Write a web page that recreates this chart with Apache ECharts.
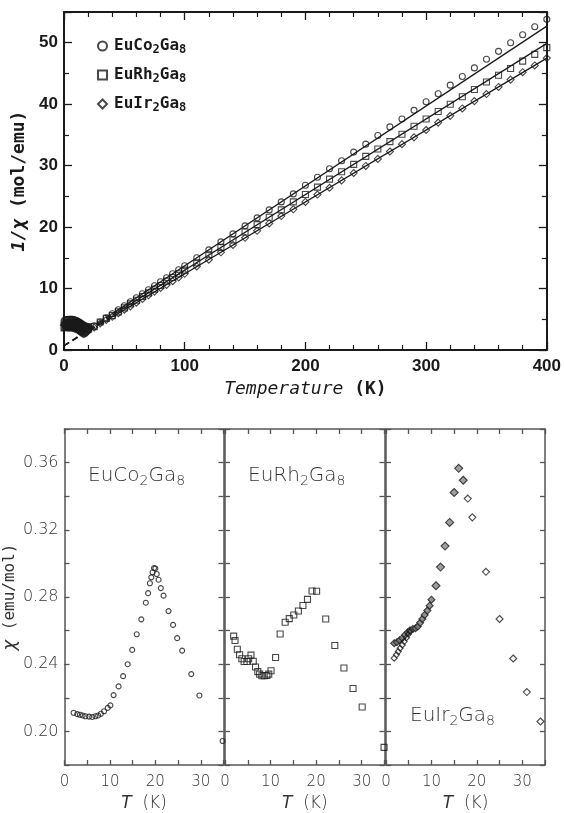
<!DOCTYPE html>
<html>
<head>
<meta charset="utf-8">
<script src="https://cdn.jsdelivr.net/npm/echarts@6/dist/echarts.min.js"></script>
<style>
html, body { margin: 0; padding: 0; background: #fff; }
#chart { width: 564px; height: 813px; }
</style>
</head>
<body>
<div id="chart"></div>
<script>
// top panel: 1/chi vs T, low-T part (dense)
var lowT = [1, 2, 3, 4, 5, 6, 7, 8, 9, 10, 11, 12, 13, 14, 15, 16, 17, 18, 19];
var coLow = [4.72, 4.74, 4.76, 4.78, 4.79, 4.79, 4.78, 4.75, 4.68, 4.6, 4.5, 4.4, 4.28, 4.15, 4.0, 3.85, 3.68, 3.5, 3.42];
var rhLow = [3.8, 3.9, 4.02, 4.14, 4.12, 4.1, 4.2, 4.29, 4.28, 4.23, 4.05, 3.88, 3.8, 3.74, 3.71, 3.68, 3.63, 3.59, 3.55];
var irLow = [4.05, 3.96, 3.92, 3.88, 3.85, 3.83, 3.8, 3.75, 3.68, 3.6, 3.5, 3.36, 3.22, 3.08, 2.93, 2.8, 2.86, 2.95, 3.05];

// top panel: 1/chi vs T, 20 K and up
var topT = [20, 25, 30, 35, 40, 45, 50, 55, 60, 65, 70, 75, 80, 85, 90, 95, 100,
	110, 120, 130, 140, 150, 160, 170, 180, 190,
	200, 210, 220, 230, 240, 250, 260, 270, 280, 290,
	300, 310, 320, 330, 340, 350, 360, 370, 380, 390, 400];
var coTop = [3.37, 3.95, 4.55, 5.25, 5.9, 6.55, 7.2, 7.85, 8.5, 9.15, 9.8, 10.45, 11.1, 11.75, 12.4, 13.05, 13.7,
	15.0, 16.3, 17.6, 18.9, 20.2, 21.5, 22.8, 24.1, 25.4,
	26.8, 28.1, 29.5, 30.8, 32.2, 33.5, 34.9, 36.3, 37.6, 39.0,
	40.4, 41.7, 43.1, 44.5, 45.9, 47.3, 48.6, 50.0, 51.3, 52.6, 53.8];
var rhTop = [3.53, 3.8, 4.55, 5.15, 5.6, 6.2, 6.85, 7.5, 8.1, 8.7, 9.3, 9.9, 10.5, 11.2, 11.8, 12.4, 13.0,
	14.2, 15.5, 16.7, 17.9, 19.2, 20.4, 21.6, 22.8, 24.1,
	25.3, 26.5, 27.8, 29.0, 30.2, 31.5, 32.7, 33.9, 35.1, 36.4,
	37.6, 38.8, 40.0, 41.2, 42.4, 43.6, 44.7, 45.8, 47.0, 48.1, 49.2];
var irTop = [3.16, 3.65, 4.3, 4.9, 5.4, 6.0, 6.55, 7.1, 7.7, 8.3, 8.9, 9.5, 10.1, 10.6, 11.2, 11.8, 12.4,
	13.6, 14.7, 15.9, 17.1, 18.25, 19.4, 20.6, 21.8, 22.9,
	24.1, 25.3, 26.4, 27.6, 28.8, 29.95, 31.1, 32.3, 33.5, 34.6,
	35.8, 37.0, 38.1, 39.3, 40.5, 41.65, 42.8, 44.0, 45.2, 46.3, 47.5];

// Curie-Weiss fit lines (dashed below fitT[1])
var fitT = [0, 40, 400];
var coFit = [0.7, 5.9, 52.7];
var rhFit = [0.7, 5.62, 49.9];
var irFit = [0.7, 5.38, 47.5];

// bottom panels: chi vs T
var coT = [2.0, 2.8, 3.4, 4.0, 4.6, 5.4, 6.1, 6.8, 7.4, 8.0,
	8.7, 9.5, 10.1, 10.8, 11.9, 12.9, 13.9, 14.9, 15.9, 16.9,
	17.9, 18.4, 18.8, 19.1, 19.4, 19.7, 20.0, 20.3, 20.7, 21.2,
	21.8, 22.9, 23.9, 24.8, 25.9, 27.9, 29.7, 34.8];
var coChi = [0.2111, 0.2103, 0.2099, 0.2095, 0.2090, 0.2088, 0.2086, 0.2090, 0.2095, 0.2105,
	0.2120, 0.2140, 0.2155, 0.2216, 0.2268, 0.2329, 0.2400, 0.2485, 0.2578, 0.2667,
	0.2766, 0.2823, 0.2882, 0.2917, 0.2947, 0.2972, 0.2970, 0.2937, 0.2903, 0.2853,
	0.2808, 0.2716, 0.2634, 0.2555, 0.2481, 0.2341, 0.2214, 0.1943];

var rhT = [1.9, 2.2, 2.7, 3.2, 3.7, 4.2, 4.8, 5.2, 5.7, 6.2,
	6.7, 7.2, 7.6, 8.1, 8.6, 9.2, 9.6, 10.1, 11.1, 12.1,
	13.2, 14.1, 15.1, 16.1, 17.1, 18.1, 19.1, 20.1, 22.1, 24.1,
	26.1, 28.1, 30.1, 34.9];
var rhChi = [0.2567, 0.2541, 0.2489, 0.2456, 0.2432, 0.2416, 0.2416, 0.2432, 0.2454, 0.2418,
	0.2383, 0.2356, 0.2341, 0.2331, 0.2331, 0.2333, 0.2341, 0.2361, 0.2440, 0.2580,
	0.2650, 0.2671, 0.2693, 0.2717, 0.2749, 0.2786, 0.2836, 0.2834, 0.2669, 0.2511,
	0.2377, 0.2255, 0.2145, 0.1905];

var irUpT = [1.8, 2.4, 3.0, 3.6, 4.2, 4.8, 5.3, 5.9, 6.5, 7.0, 7.5, 8.0, 8.5, 9.1, 9.6, 10.0];
var irUpChi = [0.2525, 0.2531, 0.2543, 0.2555, 0.2574, 0.2590, 0.2602, 0.2610, 0.2614, 0.2624,
	0.2646, 0.2669, 0.2693, 0.2719, 0.2748, 0.2784];
var irLowT = [1.8, 2.3, 2.7, 3.1, 3.6, 4.0, 4.5, 4.9, 5.3];
var irLowChi = [0.2436, 0.2456, 0.2475, 0.2495, 0.2515, 0.2535, 0.2558, 0.2578, 0.2594];
var irPeakT = [11.0, 12.0, 13.0, 14.0, 15.0, 16.0, 17.0];
var irPeakChi = [0.2867, 0.2978, 0.3103, 0.3244, 0.3422, 0.3566, 0.3495];
var irHighT = [18.0, 19.0, 22.0, 25.0, 28.0, 31.0, 34.0];
var irHighChi = [0.3386, 0.3274, 0.2950, 0.2669, 0.2434, 0.2234, 0.2059];

var names = ['EuCo2Ga8', 'EuRh2Ga8', 'EuIr2Ga8'];

var ink = '#1a1a1a';
var grey = '#555';
var mono = 'DejaVu Sans Mono';
var light = 'DejaVu Sans';

function pairs(xs, ys) {
	return xs.map(function(x, i) { return [x, ys[i]]; });
}

// 'EuCo2Ga8' -> rich string with subscripts
function subFmt(s) {
	return s.replace(/([A-Za-z]+)(\d)/g, '{a|$1}{s|$2}');
}

function axis(o) {
	var col = o.col || ink;
	return {
		type: 'value',
		gridIndex: o.grid,
		position: o.pos,
		min: o.min,
		max: o.max,
		interval: o.interval,
		name: o.name || '',
		nameLocation: 'middle',
		nameGap: o.nameGap || 0,
		nameTextStyle: o.nameStyle || {},
		axisLine: { show: true, onZero: false, lineStyle: { color: col, width: o.lw || 1.5 } },
		axisTick: { show: true, inside: true, length: o.tl || 7, lineStyle: { color: col, width: 1.3 } },
		minorTick: { show: !!o.minor, splitNumber: o.minor || 5, length: 5, lineStyle: { color: col, width: 1.2 } },
		splitLine: { show: false },
		axisLabel: o.label ? o.label : { show: false }
	};
}

var topLabel = { show: true, color: ink, fontFamily: 'Liberation Sans', fontWeight: 'bold', fontSize: 17 };
var topLabelX = Object.assign({ margin: 8 }, topLabel);
var topLabelY = Object.assign({ margin: 6, showMaxLabel: false }, topLabel);

var botLabelX = {
	show: true, color: '#333', fontFamily: light, fontWeight: 200, fontSize: 15, margin: 10,
	formatter: function(v) { return Math.round(v) % 10 === 0 ? String(Math.round(v)) : ''; }
};
var botLabelY = {
	show: true, color: '#333', fontFamily: light, fontWeight: 200, fontSize: 16, margin: 6,
	formatter: function(v) { var k = Math.round(v * 100); return k % 4 === 0 ? v.toFixed(2) : ''; }
};

var grids = [
	{ left: 64, top: 12, width: 483, height: 338 },
	{ left: 64, top: 429, width: 159.5, height: 337 },
	{ left: 225, top: 429, width: 159.5, height: 337 },
	{ left: 386, top: 429, width: 159, height: 337 }
];

var botXName = {
	color: '#333', fontFamily: light, fontWeight: 200, fontSize: 17,
	rich: { i: { fontFamily: light, fontStyle: 'italic', fontWeight: 200, fontSize: 17, color: '#333' } }
};

var xAxes = [
	axis({ grid: 0, pos: 'bottom', min: 0, max: 400, interval: 100, minor: 5, tl: 8, lw: 2, label: topLabelX,
		name: '{i|Temperature}{b| (K)}', nameGap: 30,
		nameStyle: { rich: {
			i: { fontFamily: mono, fontStyle: 'italic', fontSize: 18, color: ink },
			b: { fontFamily: mono, fontWeight: 'bold', fontSize: 18, color: ink } } } }),
	axis({ grid: 0, pos: 'top', min: 0, max: 400, interval: 100, minor: 5, tl: 8, lw: 2 })
];
var yAxes = [
	axis({ grid: 0, pos: 'left', min: 0, max: 55, interval: 10, minor: 2, tl: 8, lw: 2, label: topLabelY,
		name: '{i|1/χ}{b| (mol/emu)}', nameGap: 34,
		nameStyle: { rich: {
			i: { fontFamily: mono, fontStyle: 'italic', fontWeight: 'bold', fontSize: 18, color: ink },
			b: { fontFamily: mono, fontWeight: 'bold', fontSize: 18, color: ink } } } }),
	axis({ grid: 0, pos: 'right', min: 0, max: 55, interval: 10, minor: 2, tl: 8, lw: 2 })
];
for (var g = 1; g <= 3; g++) {
	xAxes.push(axis({ grid: g, pos: 'bottom', min: 0, max: 35, interval: 5, tl: 5, col: grey, label: botLabelX,
		name: '{i|T}  (K)', nameGap: 30, nameStyle: botXName }));
	xAxes.push(axis({ grid: g, pos: 'top', min: 0, max: 35, interval: 5, tl: 5, col: grey }));
	yAxes.push(axis({ grid: g, pos: 'left', min: 0.18, max: 0.38, interval: 0.02, tl: 5, col: grey,
		label: g === 1 ? botLabelY : null,
		name: g === 1 ? '{i|χ} (emu/mol)' : '', nameGap: 42,
		nameStyle: { color: '#333', fontFamily: mono, fontSize: 16,
			rich: { i: { fontFamily: light, fontStyle: 'italic', fontSize: 18, color: '#333' } } } }));
	yAxes.push(axis({ grid: g, pos: 'right', min: 0.18, max: 0.38, interval: 0.02, tl: 5, col: grey }));
}

function hollow(name, symbol, size, x, y, data, fill, bw) {
	return {
		name: name, type: 'scatter', xAxisIndex: x, yAxisIndex: y,
		symbol: symbol, symbolSize: size, data: data,
		itemStyle: { color: fill || 'rgba(0,0,0,0)', borderColor: ink, borderWidth: bw || 1.1 }
	};
}

function fitLine(vals, dashed) {
	var d = dashed ? [[fitT[0], vals[0]], [fitT[1], vals[1]]] : [[fitT[1], vals[1]], [fitT[2], vals[2]]];
	return {
		type: 'line', xAxisIndex: 0, yAxisIndex: 0, data: d, symbol: 'none', silent: true,
		lineStyle: { color: ink, width: 1.3, type: dashed ? [6, 4] : 'solid' }
	};
}

var series = [
	hollow(names[0], 'circle', 6, 0, 0, pairs(topT, coTop)),
	hollow(names[1], 'rect', 6, 0, 0, pairs(topT, rhTop)),
	hollow(names[2], 'diamond', 7, 0, 0, pairs(topT, irTop)),
	hollow(names[0], 'circle', 8, 0, 0, pairs(lowT, coLow), null, 1.5),
	hollow(names[1], 'rect', 8, 0, 0, pairs(lowT, rhLow), null, 1.5),
	hollow(names[2], 'diamond', 9, 0, 0, pairs(lowT, irLow), null, 1.5),
	fitLine(coFit, true), fitLine(coFit, false),
	fitLine(rhFit, true), fitLine(rhFit, false),
	fitLine(irFit, true), fitLine(irFit, false),
	hollow('co', 'circle', 5, 2, 2, pairs(coT, coChi)),
	hollow('rh', 'rect', 6, 4, 4, pairs(rhT, rhChi)),
	hollow('irUp', 'diamond', 7, 6, 6, pairs(irUpT, irUpChi), '#777'),
	hollow('irLow', 'diamond', 6, 6, 6, pairs(irLowT, irLowChi)),
	hollow('irPeak', 'diamond', 8, 6, 6, pairs(irPeakT, irPeakChi), '#888'),
	hollow('irHigh', 'diamond', 7, 6, 6, pairs(irHighT, irHighChi))
];

var panelRich = {
	a: { fontFamily: light, fontWeight: 200, fontSize: 20, color: '#333', lineHeight: 24 },
	s: { fontFamily: light, fontWeight: 200, fontSize: 14, color: '#333', lineHeight: 10, verticalAlign: 'bottom' }
};
function panelTitle(text, left, top) {
	return { text: subFmt(text), left: left, top: top, padding: 0, textStyle: { rich: panelRich } };
}

var myChart = echarts.init(document.getElementById('chart'));
var option = {
	animation: false,
	backgroundColor: '#fff',
	title: [
		panelTitle(names[0], 88, 464),
		panelTitle(names[1], 248, 464),
		panelTitle(names[2], 410, 704)
	],
	legend: {
		data: names,
		orient: 'vertical',
		left: 92,
		top: 33,
		itemWidth: 9,
		itemHeight: 9,
		itemGap: 11,
		formatter: subFmt,
		textStyle: {
			padding: [0, 0, 0, 2],
			rich: {
				a: { fontFamily: mono, fontWeight: 'bold', fontSize: 16, color: ink, lineHeight: 20 },
				s: { fontFamily: mono, fontWeight: 'bold', fontSize: 12, color: ink, lineHeight: 8, verticalAlign: 'bottom' }
			}
		}
	},
	grid: grids,
	xAxis: xAxes,
	yAxis: yAxes,
	series: series
};
myChart.setOption(option, true);
</script>
</body>
</html>
